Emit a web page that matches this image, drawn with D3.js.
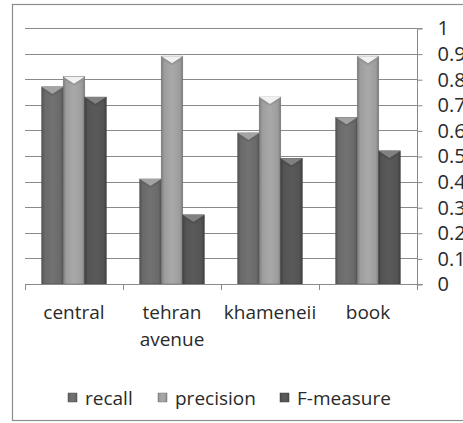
<!DOCTYPE html>
<html>
<head>
<meta charset="utf-8">
<script src="https://cdn.jsdelivr.net/npm/d3@7"></script>
<style>
  html, body { margin: 0; padding: 0; background: #fff; }
  svg { display: block; }
  text { font-family: "Open Sans", "Noto Sans", sans-serif; fill: #2a2a2a; }
</style>
</head>
<body>
<svg id="chart" width="463" height="423"></svg>
<script>
// Retrieval scores per query set
const categories = [["central"], ["tehran", "avenue"], ["khameneii"], ["book"]];
const seriesNames = ["recall", "precision", "F-measure"];
const recall    = [0.77, 0.41, 0.59, 0.65];
const precision = [0.81, 0.89, 0.73, 0.89];
const fmeasure  = [0.73, 0.27, 0.49, 0.52];
const yTicks = [0, 0.1, 0.2, 0.3, 0.4, 0.5, 0.6, 0.7, 0.8, 0.9, 1];

const seriesValues = [recall, precision, fmeasure];
const seriesColors = ["#6e6e6e", "#a3a3a3", "#575757"];
const FS = 19;

const svg = d3.select("#chart");
const W = 463;
const plot = { left: 25, right: 417, top: 28, bottom: 284 };

// outer frame
svg.append("rect")
  .attr("x", 12.5).attr("y", 4.5)
  .attr("width", W).attr("height", 416)
  .attr("fill", "#fff").attr("stroke", "#8c8c8c").attr("stroke-width", 1.2);

const x0 = d3.scaleBand()
  .domain(d3.range(categories.length))
  .range([plot.left, plot.right])
  .paddingInner(0).paddingOuter(0);

const x1 = d3.scaleBand()
  .domain(d3.range(seriesNames.length))
  .range([0, x0.bandwidth()])
  .paddingOuter(0.78).paddingInner(0);

const y = d3.scaleLinear().domain([0, 1]).range([plot.bottom, plot.top]);

// gradients for a cylinder-like shading of each series
const defs = svg.append("defs");
seriesColors.forEach((c, i) => {
  const g = defs.append("linearGradient").attr("id", "g" + i)
    .attr("x1", "0").attr("x2", "1").attr("y1", "0").attr("y2", "0");
  const base = d3.color(c);
  g.append("stop").attr("offset", "0%").attr("stop-color", base.darker(0.8));
  g.append("stop").attr("offset", "14%").attr("stop-color", base.darker(0.1));
  g.append("stop").attr("offset", "50%").attr("stop-color", base.brighter(0.1));
  g.append("stop").attr("offset", "86%").attr("stop-color", base.darker(0.1));
  g.append("stop").attr("offset", "100%").attr("stop-color", base.darker(0.8));
});

// horizontal gridlines
svg.append("g").selectAll("line").data(yTicks.filter(t => t > 0)).join("line")
  .attr("x1", plot.left).attr("x2", plot.right)
  .attr("y1", d => Math.round(y(d)) + 0.5).attr("y2", d => Math.round(y(d)) + 0.5)
  .attr("stroke", "#8a8a8a").attr("stroke-width", 1);

// right value axis
const yAxis = d3.axisRight(y).tickValues(yTicks).tickSize(5).tickPadding(15)
  .tickFormat(d => d3.format("~g")(d));
const ya = svg.append("g").attr("transform", `translate(${plot.right + 0.5},0.5)`).call(yAxis);
ya.select(".domain").attr("stroke", "#8a8a8a").attr("d", `M5,${plot.top}H0V${plot.bottom}H5`);
ya.selectAll(".tick line").attr("stroke", "#8a8a8a");
ya.selectAll(".tick text").attr("font-size", 20).attr("fill", "#2a2a2a")
  .style("font-family", '"Open Sans", sans-serif');

// bars
const groups = svg.append("g").selectAll("g").data(categories).join("g")
  .attr("transform", (d, i) => `translate(${x0(i)},0)`);

groups.each(function(cat, ci) {
  const g = d3.select(this);
  seriesValues.forEach((vals, si) => {
    const bx = x1(si), bw = x1.bandwidth();
    const top = y(vals[ci]);
    const base = d3.color(seriesColors[si]);
    g.append("rect")
      .attr("x", bx).attr("y", top)
      .attr("width", bw).attr("height", plot.bottom - top)
      .attr("fill", `url(#g${si})`)
      .attr("stroke", base.darker(1)).attr("stroke-width", 0.6);
    // bevelled top
    g.append("path")
      .attr("d", `M${bx},${top}L${bx + bw},${top}L${bx + bw / 2},${top + 7}Z`)
      .attr("fill", base.brighter(1.1));
    g.append("path")
      .attr("d", `M${bx},${top}L${bx + bw / 2},${top + 7}L${bx + bw},${top}L${bx + bw},${top + 3}L${bx + bw / 2},${top + 9}L${bx},${top + 3}Z`)
      .attr("fill", base.darker(0.4)).attr("opacity", 0.6);
  });
});

// category axis
const xa = svg.append("g");
xa.append("line")
  .attr("x1", plot.left).attr("x2", plot.right)
  .attr("y1", plot.bottom + 0.5).attr("y2", plot.bottom + 0.5)
  .attr("stroke", "#8a8a8a");
d3.range(categories.length + 1).forEach(i => {
  const xx = Math.round(plot.left + i * x0.bandwidth()) + 0.5;
  xa.append("line").attr("x1", xx).attr("x2", xx)
    .attr("y1", plot.bottom).attr("y2", plot.bottom + 6).attr("stroke", "#8a8a8a");
});
categories.forEach((lines, i) => {
  const cx = x0(i) + x0.bandwidth() / 2;
  const t = xa.append("text")
    .attr("x", cx).attr("y", 319)
    .attr("text-anchor", "middle").attr("font-size", FS);
  lines.forEach((ln, k) => {
    t.append("tspan").attr("x", cx).attr("dy", k ? 27 : 0).text(ln);
  });
});

// legend
const legendX = [68, 158, 280];
const lg = svg.append("g");
seriesNames.forEach((name, i) => {
  lg.append("rect").attr("x", legendX[i]).attr("y", 393).attr("width", 9).attr("height", 9)
    .attr("fill", `url(#g${i})`).attr("stroke", d3.color(seriesColors[i]).darker(0.8)).attr("stroke-width", 0.5);
  lg.append("text").attr("x", legendX[i] + 17).attr("y", 405)
    .attr("font-size", FS).text(name);
});
</script>
</body>
</html>
